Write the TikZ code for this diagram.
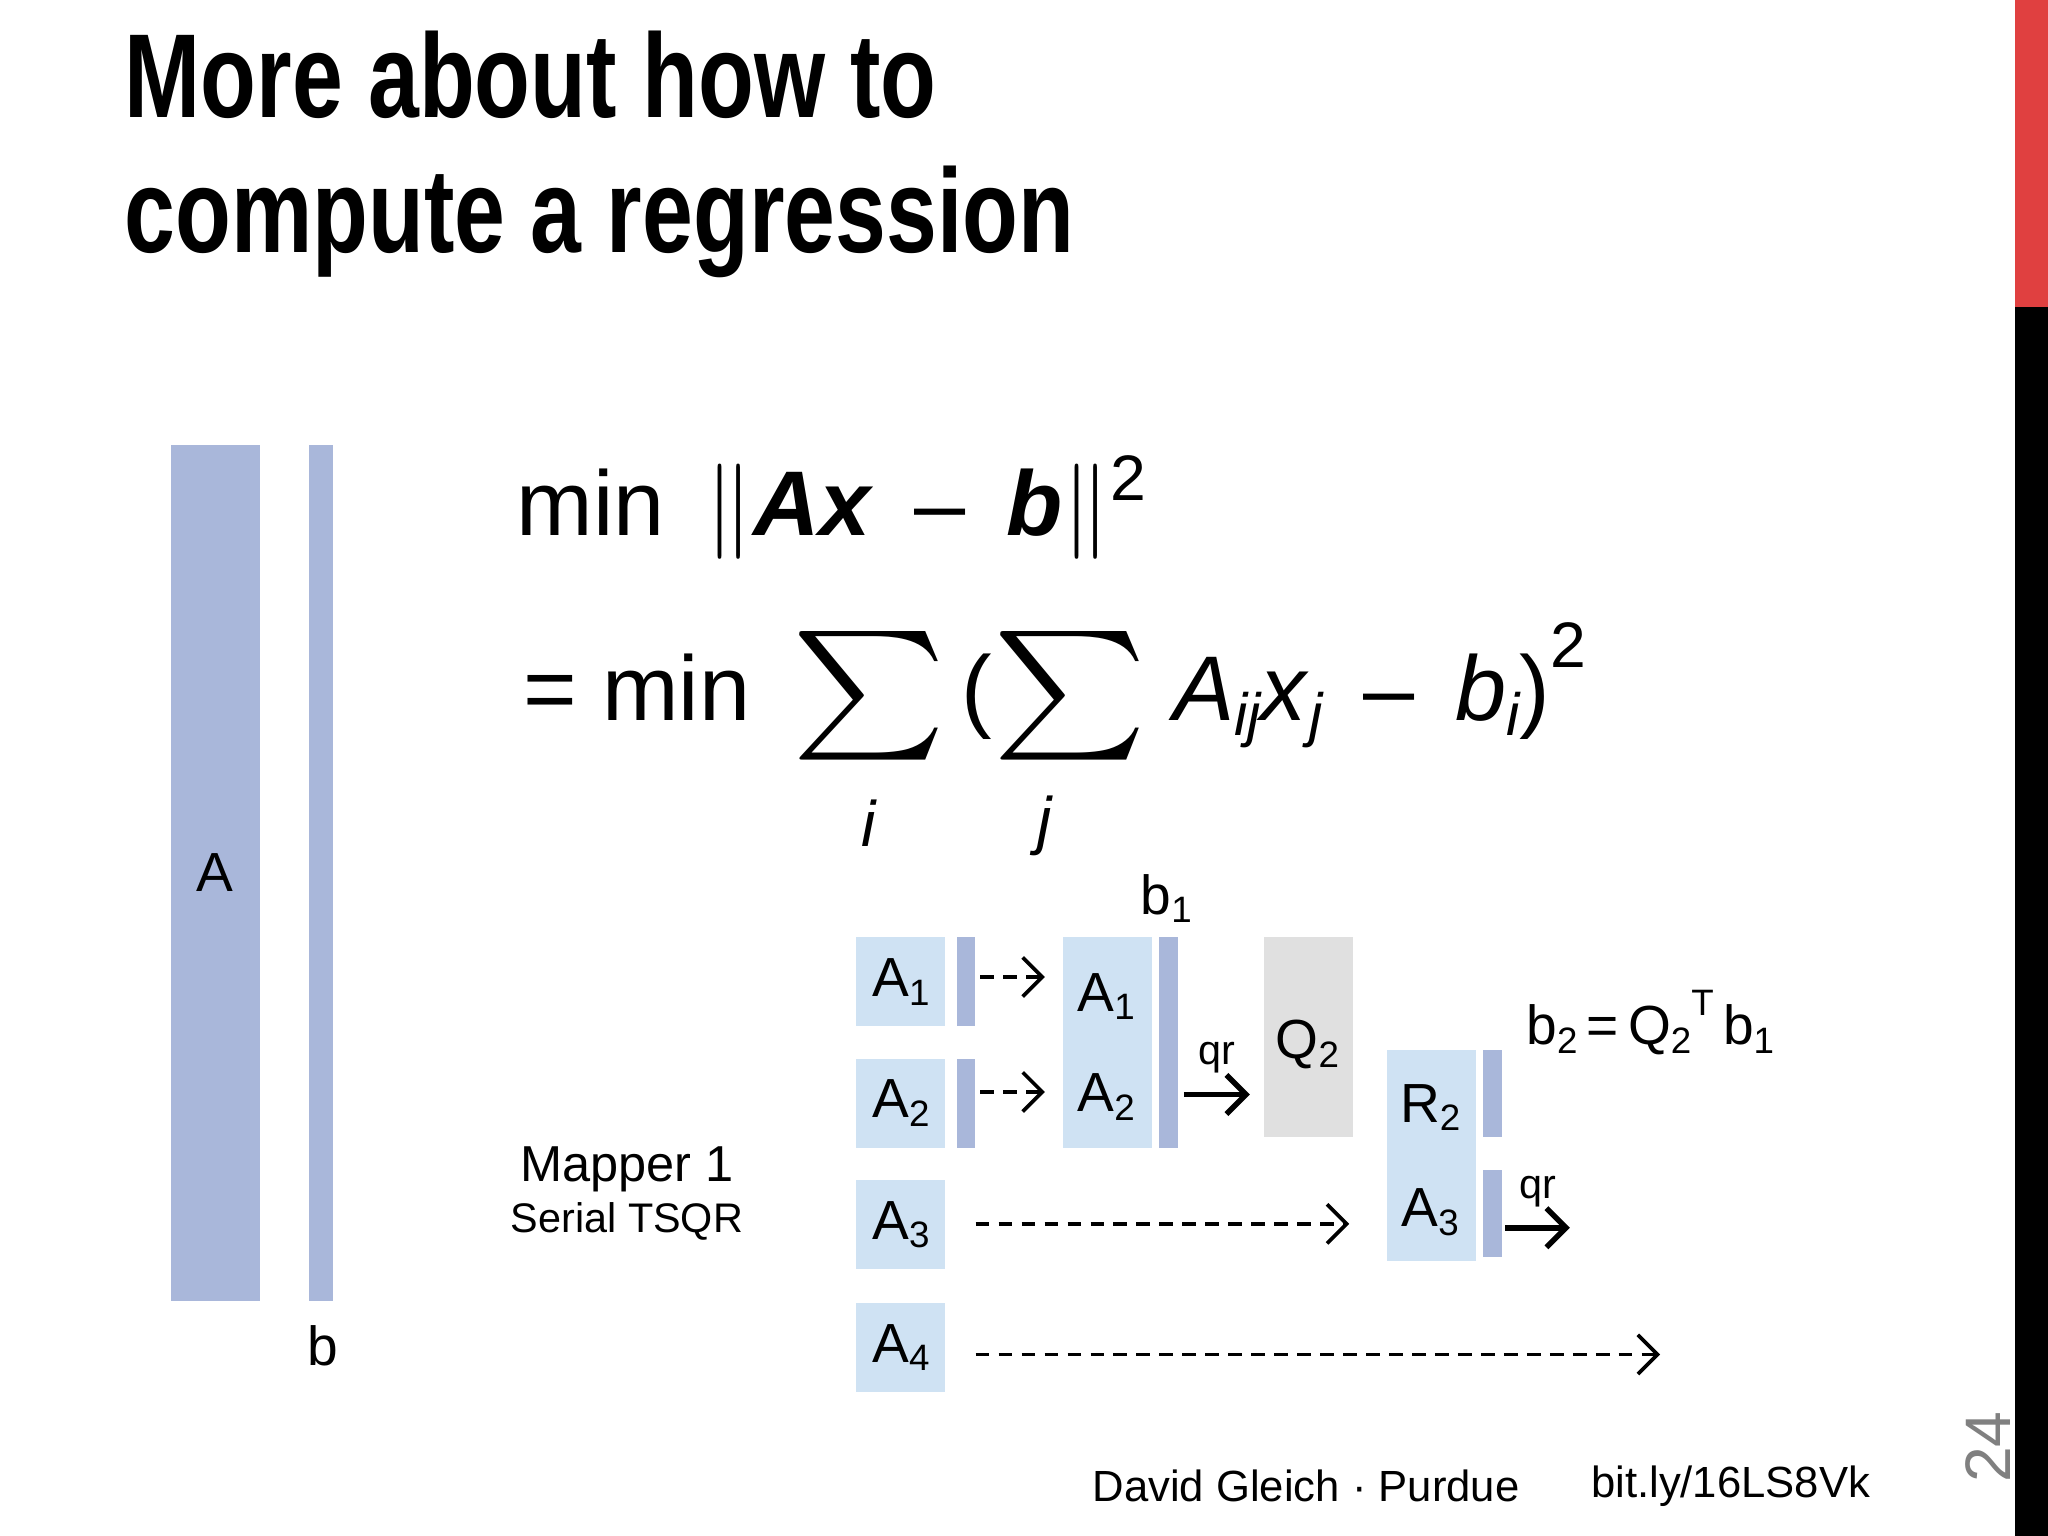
\documentclass[tikz,border=0pt]{standalone}
\usepackage{fontspec}
\usepackage{graphicx}
\setmainfont{Liberation Sans}
\usetikzlibrary{arrows.meta}
\definecolor{barc}{HTML}{A9B7DA}
\definecolor{blkc}{HTML}{CFE2F3}
\definecolor{qc}{HTML}{E0E0E0}
\definecolor{redc}{HTML}{E04040}
\newcommand{\sbs}[1]{\raisebox{-0.3ex}{\fontsize{8}{8}\selectfont #1}}
\newcommand{\bigsum}{\raisebox{-0.45em}{\scalebox{3.2}[2.8]{$\sum$}}}
\tikzset{
 blk/.style={fill=blkc,draw=none,anchor=north west,inner sep=0pt,font=\fontsize{12}{14}\selectfont},
 bar/.style={fill=barc,draw=none,anchor=north west,inner sep=0pt,minimum width=0.14cm},
 dar/.style={densely dashed,-{Straight Barb[length=1.5mm]},thick},
 sar/.style={-{Straight Barb[length=1.5mm]},very thick},
 lab/.style={font=\fontsize{12}{14}\selectfont},
}
\begin{document}
\begin{tikzpicture}[x=0.01cm,y=-0.01cm]
\useasboundingbox (0,0) rectangle (1568,1176);
\fill[white] (0,0) rectangle (1568,1176);
\fill[redc] (1543,0) rectangle (1568,235);
\fill[black] (1543,235) rectangle (1568,1176);
\node[rotate=90,text=gray,font=\fontsize{14}{16}\selectfont] (pg) at (1522,1108) {24};
\node[anchor=base west,inner sep=0,font=\fontsize{26}{30}\selectfont\bfseries,xscale=0.765] (t1) at (95,90) {More about how to};
\node[anchor=base west,inner sep=0,font=\fontsize{26}{30}\selectfont\bfseries,xscale=0.765] (t2) at (95,193) {compute a regression};
% left bars
\node[bar,minimum width=0.68cm,minimum height=6.55cm] (A) at (130,340) {};
\node[lab] at (A) {A};
\node[bar,minimum width=0.18cm,minimum height=6.55cm] (b) at (236,340) {};
\node[lab] (bl) at (247,1030) {b};
% equations
\node[anchor=base west,inner sep=0,font=\fontsize{20}{24}\selectfont] (e1) at (395,410)
 {min \,$\|$\textbf{\textit{Ax}} \,--\, \textbf{\textit{b}}$\|^{\mbox{\fontsize{14}{14}\selectfont 2}}$};
\node[anchor=base west,inner sep=0,font=\fontsize{20}{24}\selectfont] (e2) at (400,552)
 {= min \,\bigsum\,(\bigsum\;\textit{A}\raisebox{-0.3ex}{\fontsize{13}{13}\selectfont\itshape ij}\textit{x}\raisebox{-0.3ex}{\fontsize{13}{13}\selectfont\itshape j} \,--\, \textit{b}\raisebox{-0.3ex}{\fontsize{13}{13}\selectfont\itshape i})\raisebox{1.1ex}{\fontsize{14}{14}\selectfont 2}};
\node[font=\fontsize{14}{16}\selectfont\itshape] (si) at (665,630) {i};
\node[font=\fontsize{14}{16}\selectfont\itshape] (sj) at (800,632) {j};
% blocks
\node[blk,minimum width=0.68cm,minimum height=0.68cm] (a1) at (655,717) {};
\node[lab] at (a1) {A\sbs{1}};
\node[blk,minimum width=0.68cm,minimum height=0.68cm] (a2) at (655,810) {};
\node[lab] at (a2) {A\sbs{2}};
\node[blk,minimum width=0.68cm,minimum height=0.68cm] (a3) at (655,903) {};
\node[lab] at (a3) {A\sbs{3}};
\node[blk,minimum width=0.68cm,minimum height=0.68cm] (a4) at (655,997) {};
\node[lab] at (a4) {A\sbs{4}};
\node[bar,minimum height=0.68cm] (b1a) at (732,717) {};
\node[bar,minimum height=0.68cm] (b2a) at (732,810) {};
\node[blk,minimum width=0.68cm,minimum height=1.61cm] (m) at (813,717) {};
\node[lab] at (847,763) {A\sbs{1}};
\node[lab] at (847,840) {A\sbs{2}};
\node[bar,minimum height=1.61cm] (mb) at (887,717) {};
\node[lab] (b1l) at (893,688) {b\sbs{1}};
\node[blk,fill=qc,minimum width=0.68cm,minimum height=1.53cm] (q) at (967,717) {};
\node[lab] at (1001,800) {Q\sbs{2}};
\node[blk,minimum width=0.68cm,minimum height=1.62cm] (r) at (1061,803) {};
\node[lab] at (1095,848) {R\sbs{2}};
\node[lab] at (1095,928) {A\sbs{3}};
\node[bar,minimum height=0.67cm] (rb1) at (1135,803) {};
\node[bar,minimum height=0.67cm] (rb2) at (1135,895) {};
\node[anchor=base west,inner sep=0,lab] (b2l) at (1168,800) {b\sbs{2}\,=\,Q\sbs{2}\raisebox{1ex}{\fontsize{8}{8}\selectfont T}\,b\sbs{1}};
% arrows
\coordinate (e3) at (1033,937);
\coordinate (e4) at (1271,1037);
\coordinate (q1e) at (957,838);
\coordinate (q2e) at (1202,940);
\draw[dar] (b1a.east |- 0,748) ++(3,0) -- (800,748);
\draw[dar] (b2a.east |- 0,836) ++(3,0) -- (800,836);
\draw[dar] (747,937) -- (e3);
\draw[dar] (747,1037) -- (e4);
\draw[sar] (mb.east |- q1e) ++(4,0) -- node[above=3pt,font=\fontsize{9}{10}\selectfont,inner sep=1pt]{qr} (q1e);
\draw[sar] (rb2.east |- q2e) ++(2,0) -- node[above=3pt,font=\fontsize{9}{10}\selectfont,inner sep=1pt]{qr} (q2e);
\node[font=\fontsize{11}{13}\selectfont] (mp) at (480,895) {Mapper 1};
\node[font=\fontsize{9}{11}\selectfont] (st) at (480,935) {Serial TSQR};
\node[font=\fontsize{9.5}{12}\selectfont] (f1) at (1000,1138) {David Gleich · Purdue};
\node[font=\fontsize{9.5}{12}\selectfont] (f2) at (1325,1138) {bit.ly/16LS8Vk};
\end{tikzpicture}
\end{document}
